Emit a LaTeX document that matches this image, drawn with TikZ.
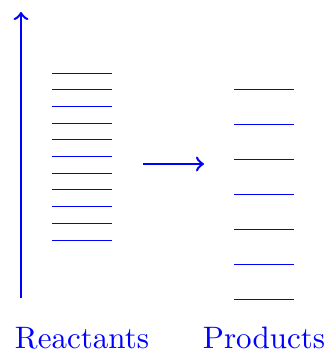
\documentclass[tikz,border=0pt]{standalone}
\usepackage{tikz}

\begin{document}
\begin{tikzpicture}[x=0.3226pt,y=0.3226pt,line join=round]
  \useasboundingbox (0,0) rectangle (327,354);
  \coordinate (E0) at (21,56);
  \coordinate (E1) at (21,342);
  \coordinate (R0) at (143,190);
  \coordinate (R1) at (204,190);
  \draw[->,thick,blue] (E0) -- (E1);
  \draw[->,thick,blue] (R0) -- (R1);
  % reactant levels
  \foreach \k in {0,...,10}
    \draw[blue,line width=0.3pt] (52,{281-16.7*\k}) -- (112,{281-16.7*\k});
  % product levels
  \foreach \k in {0,...,6}
    \draw[blue,line width=0.3pt] (234,{265-35*\k}) -- (294,{265-35*\k});
  \node[blue,anchor=base] (react) at (82,5) {Reactants};
  \node[blue,anchor=base] (prod) at (264,5) {Products};
\end{tikzpicture}
\end{document}
